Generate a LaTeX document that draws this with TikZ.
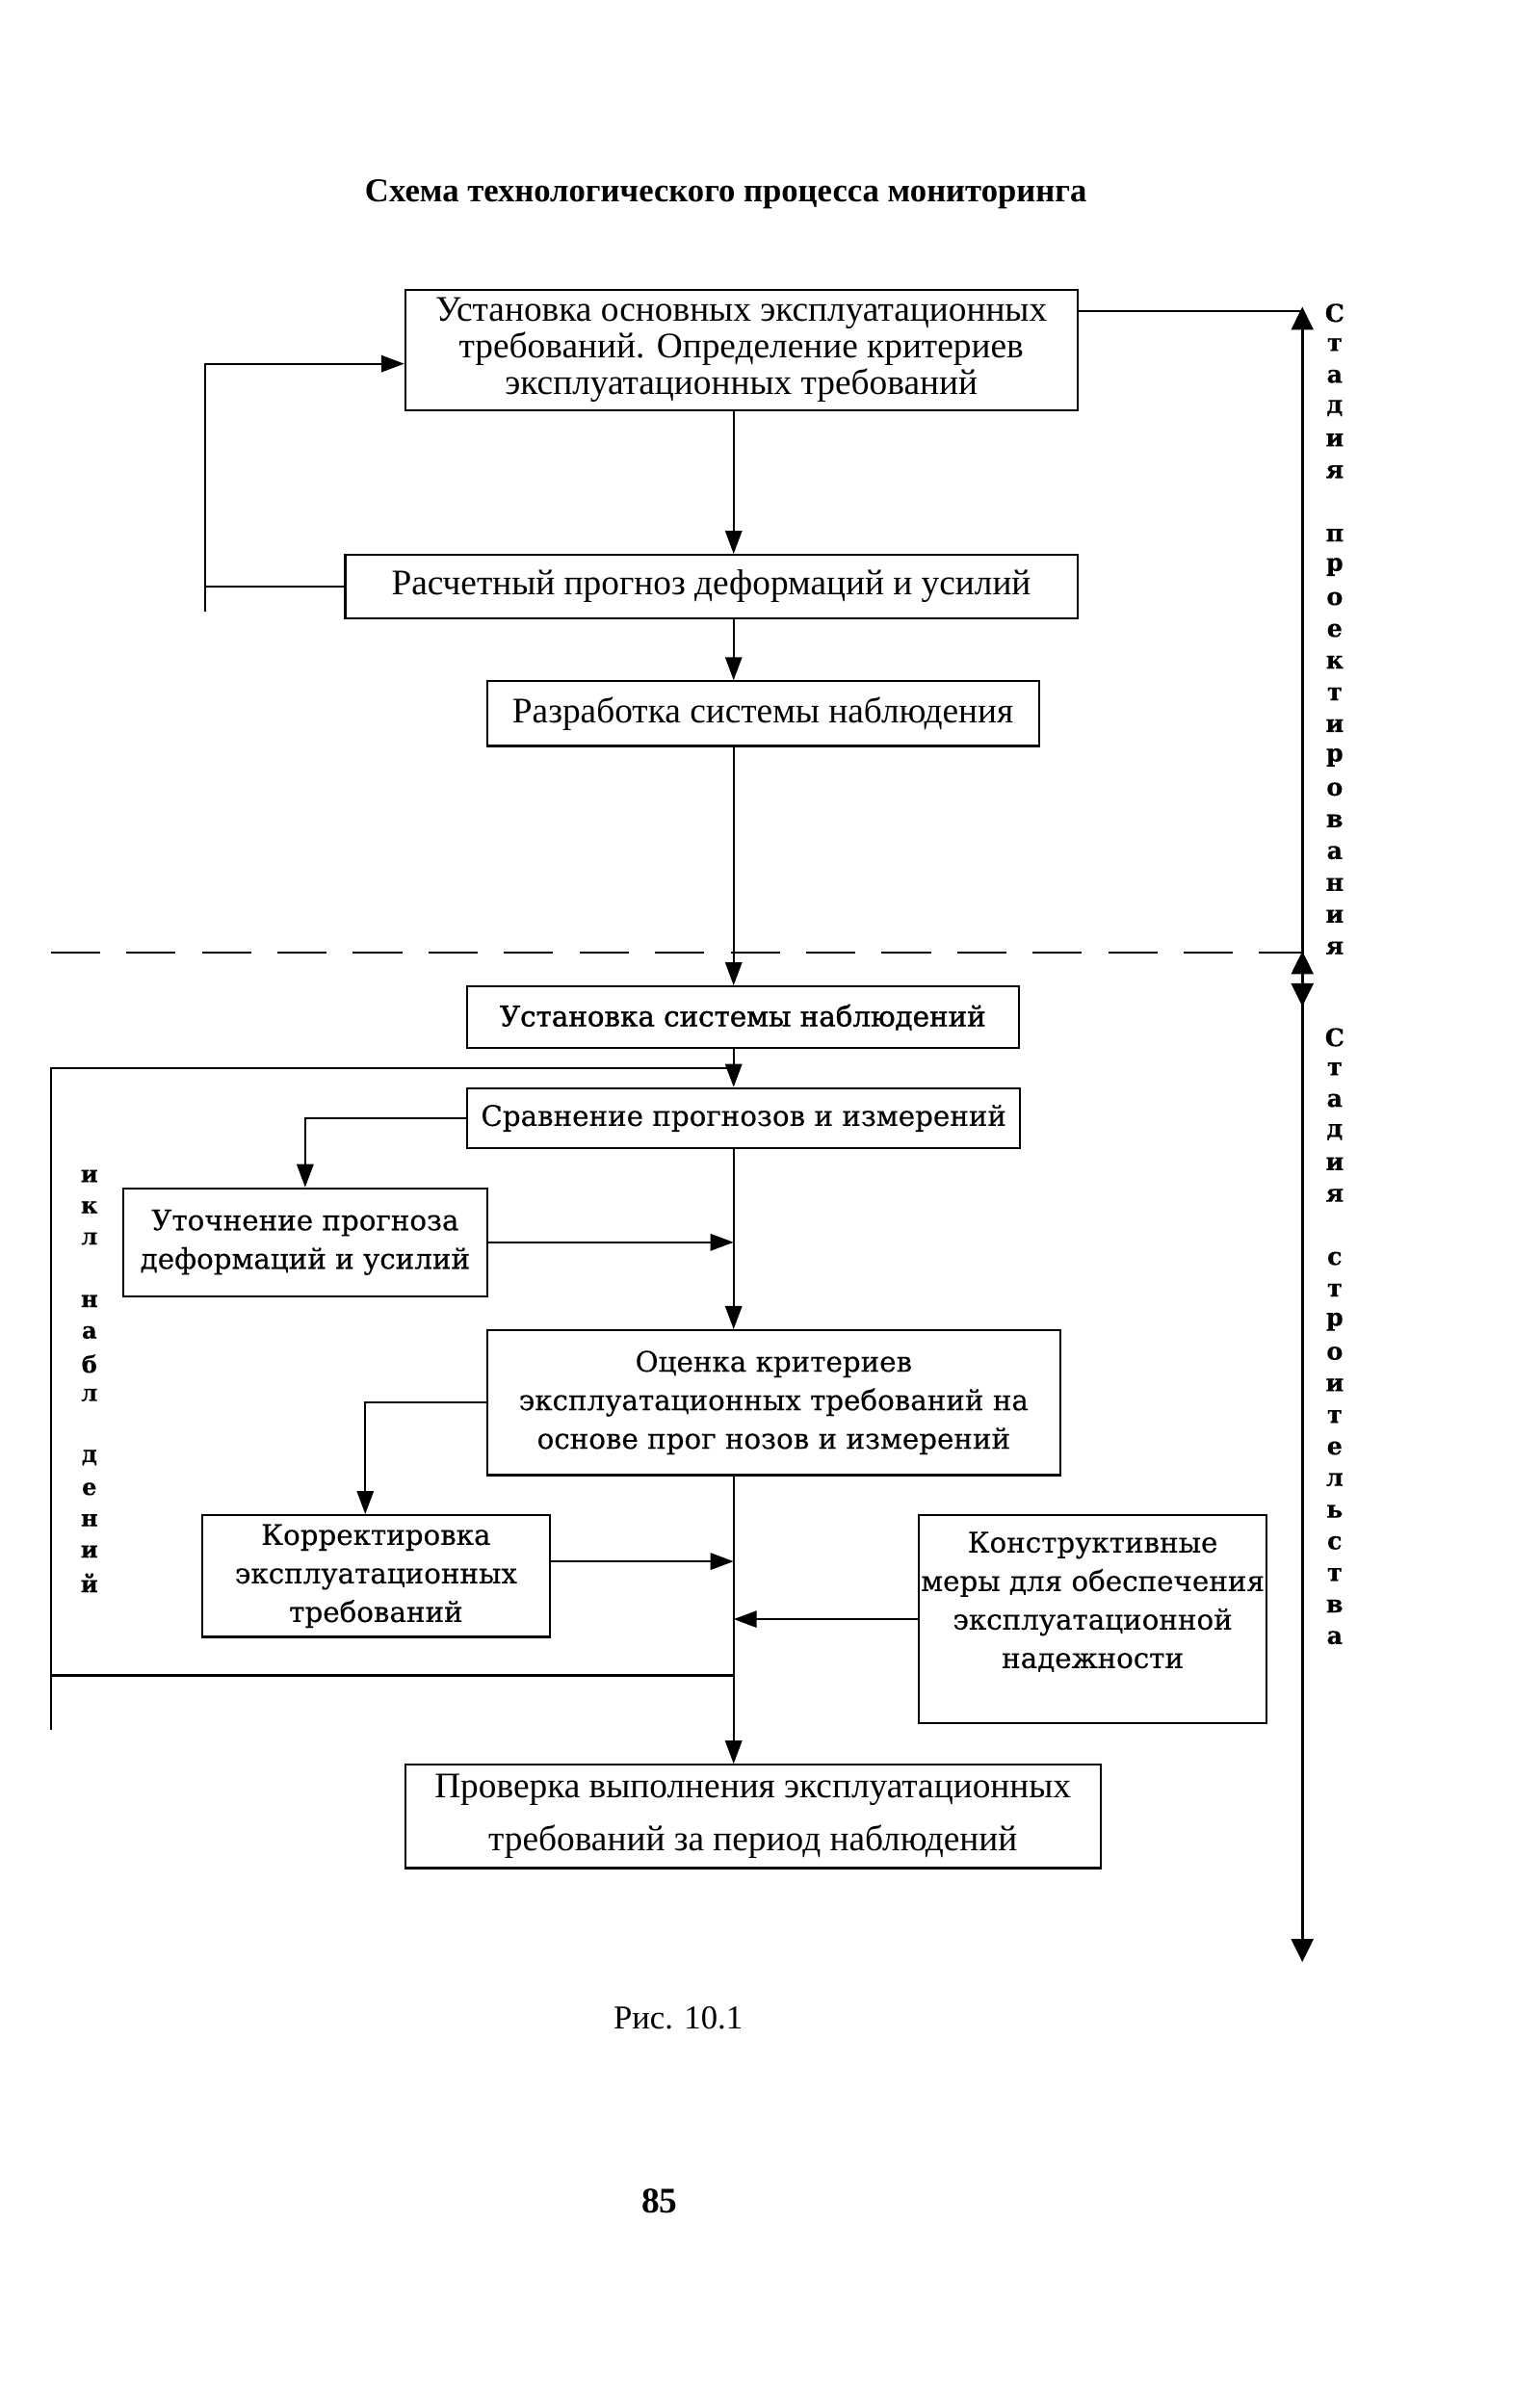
\documentclass[tikz,border=0pt]{standalone}
\usepackage{fontspec}
\setmainfont{Liberation Serif}
\newfontfamily\wide{DejaVu Serif}[FakeBold=0.3]
\newfontfamily\wideb{DejaVu Serif}[FakeBold=1.3]
\usetikzlibrary{arrows.meta}
\begin{document}
\begin{tikzpicture}[x=0.6pt,y=-0.6pt,
  box/.style={draw, line width=0.8pt, inner sep=0pt, align=center},
  up/.style={font=\fontsize{14}{14.4}\selectfont},
  lo/.style={font=\wide\fontsize{11}{15}\selectfont},
  arr/.style={line width=0.8pt, -{Triangle[length=9pt,width=6.5pt]}},
  ln/.style={line width=0.8pt},
  stagearr/.style={line width=1.2pt, {Triangle[length=9pt,width=8.5pt]}-{Triangle[length=9pt,width=8.5pt]}},
  vlet/.style={font=\wide\bfseries\fontsize{9.5}{9.5}\selectfont, inner sep=0pt},
  vletl/.style={font=\wide\bfseries\fontsize{9}{9}\selectfont, inner sep=0pt}]
\fill[white] (0,0) rectangle (999,1561);
\useasboundingbox (0,0) rectangle (999,1561);

\node[font=\bfseries\fontsize{13}{15}\selectfont] (title) at (471,126) {Схема технологического процесса мониторинга};

\node[box, up, minimum width=261.6pt, minimum height=46.8pt] (b1) at (481,227)
  {Установка основных эксплуатационных\\требований. Определение критериев\\эксплуатационных требований};
\node[box, up, minimum width=285pt, minimum height=24.6pt] (b2) at (461.5,380.5)
  {Расчетный прогноз деформаций и усилий};
\node[box, up, minimum width=214.8pt, minimum height=25.2pt] (b3) at (495,463)
  {Разработка системы наблюдения};
\node[box, lo, font=\wideb\fontsize{11}{15}\selectfont, minimum width=214.8pt, minimum height=24pt] (b4) at (482,660)
  {Установка системы наблюдений};
\node[box, lo, minimum width=215.4pt, minimum height=23.4pt] (b5) at (482.5,725.5)
  {Сравнение прогнозов и измерений};
\node[box, lo, minimum width=141.6pt, minimum height=42pt] (b6) at (198,806)
  {Уточнение прогноза\\деформаций и усилий};
\node[box, lo, minimum width=223.2pt, minimum height=56.4pt] (b7) at (502,910)
  {Оценка критериев\\эксплуатационных требований на\\основе прог нозов и измерений};
\node[box, lo, minimum width=135.6pt, minimum height=47.4pt] (b8) at (244,1022.5)
  {Корректировка\\эксплуатационных\\требований};
\node[box, lo, minimum width=135.6pt, minimum height=81pt] (b9) at (709,1050.5)
  {Конструктивные\\меры для обеспечения\\эксплуатационной\\надежности\\\mbox{}};
\node[box, up, minimum width=270.6pt, minimum height=40.2pt] (b10) at (488.5,1178.5)
  {Проверка выполнения эксплуатационных\\[6pt]требований за период наблюдений};

\node[font=\fontsize{13}{15}\selectfont] (cap) at (440,1309) {Рис. 10.1};
\node[font=\bfseries\fontsize{14}{16}\selectfont] (pg) at (428,1428) {85};

% main line
\coordinate (mx) at (476,0);
\draw[arr] (b1.south -| mx) -- (b2.north -| mx);
\draw[arr] (b2.south -| mx) -- (b3.north -| mx);
\draw[arr] (b3.south -| mx) -- (b4.north -| mx);
\draw[arr] (b4.south -| mx) -- (b5.north -| mx);
\draw[arr] (b5.south -| mx) -- (b7.north -| mx);
\draw[arr] (b7.south -| mx) -- (b10.north -| mx);

% upper feedback loop
\coordinate (lA) at (133,397);
\coordinate (lB) at (133,236);
\draw[ln] (b2.west) -- (b2.west -| lA);
\draw[arr] (lA) -- (lB) -- (lB -| b1.west);

% stage arrows
\coordinate (s1t) at (845,199);
\coordinate (s1b) at (845,653);
\coordinate (s2t) at (845,617);
\coordinate (s2b) at (845,1273);
\draw[ln] (b1.east |- 0,202) -- (s1t |- 0,202);
\draw[stagearr] (s1t) -- (s1b);
\draw[stagearr] (s2t) -- (s2b);

% dashed separator
\coordinate (dL) at (33,618);
\draw[ln, dash pattern=on 19.2pt off 10.2pt] (dL) -- (dL -| s1t);

% observation cycle loop
\coordinate (cT) at (33,693);
\coordinate (cE) at (33,1122);
\coordinate (cB) at (33,1087);
\draw[ln] (cE) -- (cT) -- (cT -| mx);
\draw[ln] (cB) -- (cB -| mx);

% side branches
\draw[arr] (b5.west) -- (b5.west -| b6.north) -- (b6.north);
\draw[arr] (b6.east) -- (b6.east -| mx);
\coordinate (k8) at (237,0);
\draw[arr] (b7.west) -- (b7.west -| k8) -- (k8 |- b8.north);
\draw[arr] ([yshift=5.7pt]b8.east) -- ([yshift=5.7pt]b8.east -| mx);
\draw[arr] (b9.west) -- (b9.west -| mx);

% vertical labels
\foreach \c [count=\i from 0] in {С,т,а,д,и,я,{},п,р,о,е,к,т,и,р,о,в,а,н,и,я}
  \node[vlet] (sp\i) at (866,{203+\i*20.6}) {\c};
\foreach \c [count=\i from 0] in {С,т,а,д,и,я,{},с,т,р,о,и,т,е,л,ь,с,т,в,а}
  \node[vlet] (ss\i) at (866,{673+\i*20.5}) {\c};
\foreach \c [count=\i from 0] in {и,к,л,{},н,а,б,л,{},д,е,н,и,й}
  \node[vletl] (cy\i) at (58,{763+\i*20.3}) {\c};
\end{tikzpicture}
\end{document}
